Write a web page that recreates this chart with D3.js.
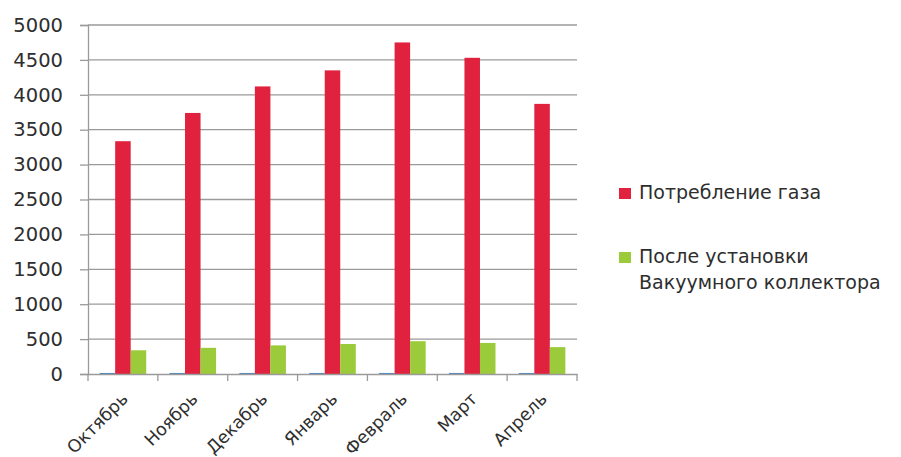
<!DOCTYPE html>
<html>
<head>
<meta charset="utf-8">
<script src="https://cdn.jsdelivr.net/npm/d3@7/dist/d3.min.js"></script>
<style>
  html, body { margin: 0; padding: 0; background: #fff; }
  svg { display: block; }
  text { font-family: "DejaVu Sans", "Noto Sans", sans-serif; fill: #2e2e2e; }
</style>
</head>
<body>
<svg id="chart" width="901" height="457"></svg>
<script>
// Monthly gas consumption, before and after the vacuum collector
const months = ["Октябрь", "Ноябрь", "Декабрь", "Январь", "Февраль", "Март", "Апрель"];
const baseSeries = [15, 15, 15, 15, 15, 15, 15];
const gasUse = [3335, 3740, 4120, 4350, 4750, 4530, 3870];
const afterCollector = [340, 375, 410, 430, 470, 445, 385];
const yTicks = [0, 500, 1000, 1500, 2000, 2500, 3000, 3500, 4000, 4500, 5000];

const seriesNames = ["", "Потребление газа", "После установки Вакуумного коллектора"];
const seriesValues = [baseSeries, gasUse, afterCollector];
const seriesColors = ["#4a86c0", "#e0223f", "#9bcb3a"];
const legendLines = [["Потребление газа"], ["После установки", "Вакуумного коллектора"]];

const svg = d3.select("#chart");
const margin = { left: 88, right: 324, top: 25, bottom: 83 };
const W = 901, H = 457;

const x = d3.scaleBand().domain(months).range([margin.left, W - margin.right]);
const inner = d3.scaleBand().domain([0, 1, 2])
  .range([0, x.bandwidth()]).paddingInner(0).paddingOuter(0.75);
const y = d3.scaleLinear().domain([0, 5000]).range([H - margin.bottom, margin.top]);

// Gridlines
svg.append("g")
  .selectAll("line")
  .data(yTicks.filter(d => d > 0))
  .join("line")
  .attr("x1", margin.left).attr("x2", W - margin.right)
  .attr("y1", d => y(d)).attr("y2", d => y(d))
  .attr("stroke", "#9a9a9a").attr("stroke-width", 1.3);

// Y axis
const yAxis = svg.append("g")
  .attr("transform", `translate(${margin.left},0)`)
  .call(d3.axisLeft(y).tickValues(yTicks).tickSize(8).tickPadding(17).tickFormat(d3.format("d")));
yAxis.select(".domain").attr("stroke", "#9a9a9a").attr("stroke-width", 1.3);
yAxis.selectAll(".tick line").attr("stroke", "#9a9a9a").attr("stroke-width", 1.3);
yAxis.selectAll(".tick text")
  .style("font-size", "19.5px").style("font-family", "'DejaVu Sans', sans-serif")
  .attr("fill", "#2e2e2e");

// Bars
const groups = svg.append("g")
  .selectAll("g")
  .data(months)
  .join("g")
  .attr("transform", d => `translate(${x(d)},0)`);

groups.selectAll("rect")
  .data((m, i) => seriesValues.map((vals, s) => ({ s, v: vals[i] })))
  .join("rect")
  .attr("x", d => inner(d.s))
  .attr("width", inner.bandwidth())
  .attr("y", d => y(d.v))
  .attr("height", d => y(0) - y(d.v))
  .attr("fill", d => seriesColors[d.s]);

// X axis
const xAxis = svg.append("g")
  .attr("transform", `translate(0,${y(0)})`)
  .call(d3.axisBottom(x).tickSize(0).tickPadding(0));
xAxis.select(".domain").attr("stroke", "#9a9a9a").attr("stroke-width", 1.3);
// category boundary tick marks
svg.append("g")
  .selectAll("line")
  .data(d3.range(months.length + 1))
  .join("line")
  .attr("x1", i => margin.left + i * x.step())
  .attr("x2", i => margin.left + i * x.step())
  .attr("y1", y(0)).attr("y2", y(0) + 7)
  .attr("stroke", "#9a9a9a").attr("stroke-width", 1.3);
xAxis.selectAll(".tick text")
  .style("font-size", "17.5px").style("font-family", "'DejaVu Sans', sans-serif")
  .attr("text-anchor", "end")
  .attr("dy", 0).attr("y", 0)
  .attr("transform", "translate(6,26) rotate(-45)")
  .attr("fill", "#2e2e2e");

// Legend
const legend = svg.append("g").attr("transform", "translate(619,0)");
const legendY = [188, 252];
[1, 2].forEach((s, k) => {
  legend.append("rect")
    .attr("x", 0).attr("y", legendY[k])
    .attr("width", 12).attr("height", 11)
    .attr("fill", seriesColors[s]);
  const t = legend.append("text")
    .attr("x", 20).attr("y", legendY[k] + 11)
    .style("font-size", "19px");
  legendLines[k].forEach((line, j) => {
    t.append("tspan").attr("x", 20).attr("dy", j === 0 ? 0 : 26).text(line);
  });
});
</script>
</body>
</html>
